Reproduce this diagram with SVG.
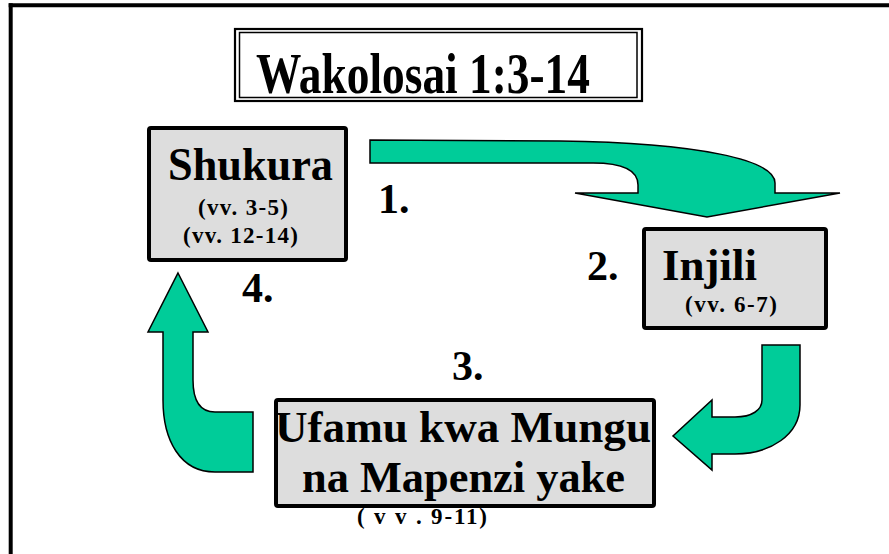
<svg xmlns="http://www.w3.org/2000/svg" width="889" height="554" viewBox="0 0 889 554">
<style>
.box{fill:#DDDDDD;stroke:#000;stroke-width:4}
.arrow{fill:#00CC99;stroke:#000;stroke-width:1.5;stroke-linejoin:miter}
text{font-family:"Liberation Serif","Times New Roman",serif;font-weight:bold;fill:#000}
.big{font-size:45px}
.num{font-size:42px}
.ref{font-size:23px}
</style>
<rect width="889" height="554" fill="#fff"/>
<g id="frame">
<line x1="10.7" y1="3.3" x2="10.7" y2="554" stroke="#000" stroke-width="4"/>
<line x1="8.7" y1="5.3" x2="889" y2="5.3" stroke="#000" stroke-width="4"/>
</g>
<g id="title">
<rect x="235" y="29" width="407" height="72" fill="#fff" stroke="#000" stroke-width="2.2"/>
<rect x="239.5" y="32.5" width="397.5" height="65" fill="none" stroke="#000" stroke-width="1.5"/>
<text x="256" y="93" font-size="58" textLength="334" lengthAdjust="spacingAndGlyphs">Wakolosai 1:3-14</text>
</g>
<g id="connectors">
<path class="arrow" d="M370,140 L560,141 C700,143 775,160 775,183 L775,193 L840,193 L707,217 L575,193 L638,193 L638,185 C638,170 622,163 593,163 L370,163 Z"/>
<path class="arrow" d="M762,345 L800,345 L800,405 C800,435 770,454 735,454 L712,454 L712,470 L673,436 L712,400 L712,417 L735,417 C752,417 762,410 762,400 Z"/>
<path class="arrow" d="M178,273 L208,332 L193,332 L193,380 C193,400 200,412 215,412 L253,412 L253,472 L215,472 C180,472 163,440 163,400 L163,332 L148,332 Z"/>
</g>
<g id="shukura">
<rect class="box" x="149" y="128" width="197" height="132" rx="2"/>
<text x="168" y="180" font-size="46" textLength="165" lengthAdjust="spacingAndGlyphs">Shukura</text>
<text class="ref" x="198" y="215" textLength="90" lengthAdjust="spacing">(vv. 3-5)</text>
<text class="ref" x="183" y="243" textLength="115" lengthAdjust="spacing">(vv. 12-14)</text>
</g>
<g id="injili">
<rect class="box" x="644" y="229" width="182" height="99" rx="2"/>
<text class="big" x="662" y="280" font-size="44" textLength="95" lengthAdjust="spacingAndGlyphs">Injili</text>
<text class="ref" x="685" y="312" textLength="92" lengthAdjust="spacing">(vv. 6-7)</text>
</g>
<g id="ufamu">
<rect class="box" x="276" y="400" width="378" height="106" rx="2"/>
<text class="big" x="275" y="442" textLength="376" lengthAdjust="spacingAndGlyphs">Ufamu kwa Mungu</text>
<text class="big" x="302" y="492" textLength="323" lengthAdjust="spacingAndGlyphs">na Mapenzi yake</text>
<text class="ref" x="357" y="524" textLength="130" lengthAdjust="spacing">( v v . 9-11)</text>
</g>
<g id="labels">
<text class="num" x="378" y="213">1.</text>
<text class="num" x="587" y="280">2.</text>
<text class="num" x="452" y="380">3.</text>
<text class="num" x="242" y="302">4.</text>
</g>
</svg>
